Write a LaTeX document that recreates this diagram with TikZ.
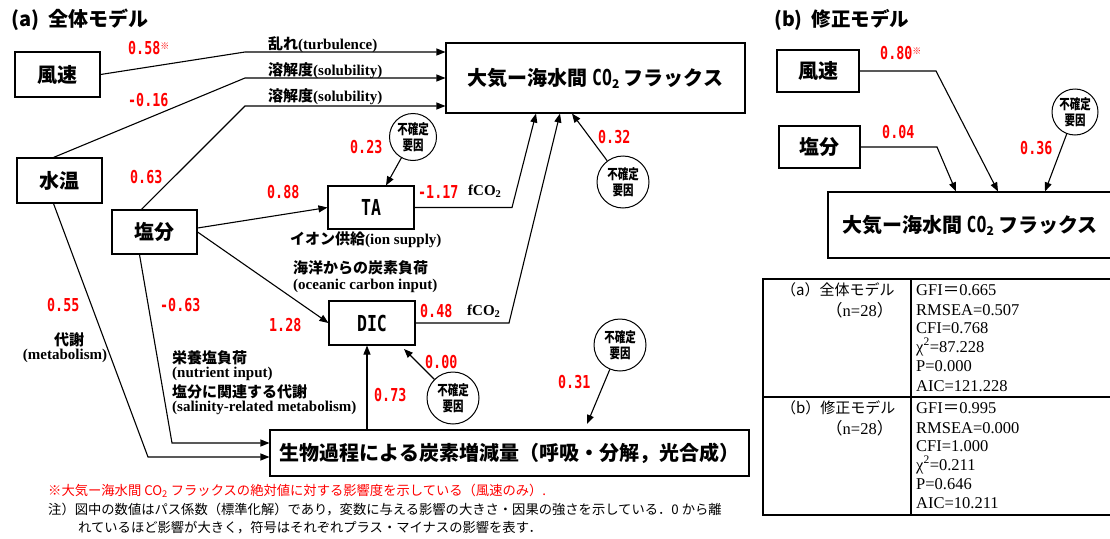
\documentclass[tikz,border=0pt]{standalone}
\usepackage{fontspec}
\setmainfont{Liberation Serif}
\newfontfamily\jp{Noto Sans CJK JP}
\newfontfamily\jpc[FakeStretch=0.75]{Noto Sans CJK JP}
\newfontfamily\cnd[FakeStretch=0.75]{DejaVu Sans Mono}
\usetikzlibrary{arrows.meta,calc}
\newcommand\myfs[1]{\fontsize{#1}{#1}\selectfont}
\colorlet{numred}{red}
\begin{document}
\begin{tikzpicture}[x=1pt,y=-1pt,
  box/.style={draw, line width=1.1pt, inner sep=0pt, font=\jp\bfseries\myfs{20}},
  num/.style={anchor=west, inner sep=0pt, text=numred, font=\cnd\bfseries\myfs{17.8}},
  lbl/.style={anchor=west, inner sep=0pt, font=\bfseries\myfs{15}},
  unc/.style={circle, draw, line width=1pt, minimum size=52pt, inner sep=0pt, align=center, font=\jpc\bfseries\fontsize{14}{15.5}\selectfont},
  arr/.style={-{Triangle[length=9pt,width=7pt]}, line width=1.1pt},
  note/.style={anchor=west, inner sep=0pt, font=\jp\myfs{13.3}},
  tcell/.style={anchor=west, inner sep=0pt, font=\myfs{16.5}},
  ttl/.style={anchor=west, inner sep=0pt, font=\jp\bfseries\myfs{20}}]
\useasboundingbox (0,0) rectangle (1110,538);

% titles
\node[ttl] (ta) at (11,20) {(a)\hspace{9pt}全体モデル};
\node[ttl, font=\jp\bfseries\myfs{19.5}] (tb) at (774,20) {(b)\hspace{9pt}修正モデル};

% boxes (a)
\node[box, minimum width=85pt, minimum height=45pt] (ws) at (57.5,74.5) {風速};
\node[box, minimum width=85pt, minimum height=45pt] (wt) at (59.5,180.5) {水温};
\node[box, minimum width=85pt, minimum height=44pt] (sal) at (154.5,232) {塩分};
\node[box, minimum width=299pt, minimum height=70pt] (flux) at (595.5,78) {大気ー海水間 {\cnd\myfs{22}CO}\raisebox{-3pt}{\myfs{12}2} フラックス};
\node[box, minimum width=86pt, minimum height=43pt, font=\cnd\bfseries\myfs{22}] (TA) at (371,207.5) {TA};
\node[box, minimum width=86pt, minimum height=44pt, font=\cnd\bfseries\myfs{22}] (DIC) at (372,323) {DIC};
\node[box, minimum width=479pt, minimum height=46pt] (bio) at (509.5,453) {生物過程による炭素増減量（呼吸・分解，光合成）};

% uncertainty circles
\node[unc, minimum size=47pt] (u1) at (413,137) {不確定\\要因};
\node[unc] (u2) at (623,182) {不確定\\要因};
\node[unc] (u3) at (453,398) {不確定\\要因};
\node[unc] (u4) at (620,345) {不確定\\要因};
\node[unc, minimum size=46pt] (u5) at (1075,112) {不確定\\要因};

% boxes (b)
\node[box, minimum width=82pt, minimum height=42pt] (wsb) at (818,71) {風速};
\node[box, minimum width=81pt, minimum height=42pt] (salb) at (819.5,147) {塩分};
\node[box, minimum width=284pt, minimum height=66pt] (fluxb) at (970,225) {大気ー海水間 {\cnd\myfs{22}CO}\raisebox{-3pt}{\myfs{12}2} フラックス};

% connectors (a)
\draw[arr] (ws.east) -- (245,52) -- (flux.west |- 0,52);
\draw[arr] ([xshift=-6pt]wt.north) -- (245,78) -- (flux.west |- 0,78);
\draw[arr] ([xshift=-13pt]sal.north) -- (245,106) -- (flux.west |- 0,106);
\draw[arr] ([yshift=4pt]sal.east) -- (TA.west);
\draw[arr] (sal.east) -- (DIC.west);
\draw[arr] (TA.east) -- (512,0 |- TA.east) -- (536,0 |- flux.south);
\draw[arr] (DIC.east) -- (509,0 |- DIC.east) -- (560,0 |- flux.south);
\draw[arr] (u2) -- (572,0 |- flux.south);
\draw[arr] (u1) -- (386,0 |- TA.north);
\draw[arr] (u3) -- (404,349);
\draw[arr] (367,0 |- bio.north) -- (367,0 |- DIC.south);
\draw[arr] (u4) -- (587,424);
\draw[arr] ([xshift=-6pt]wt.south) -- (148,457) -- (bio.west |- 0,457);
\draw[arr] ([xshift=-15pt]sal.south) -- (172,443) -- (bio.west |- 0,443);

% connectors (b)
\draw[arr] (wsb.east) -- (936,0 |- wsb.east) -- (998,0 |- fluxb.north);
\draw[arr] (salb.east) -- (937,0 |- salb.east) -- (956,0 |- fluxb.north);
\draw[arr] (u5) -- (1045,0 |- fluxb.north);

% coefficients (a)
\node[num] (n1) at (128,48) {0.58\raisebox{5pt}{\jp\bfseries\myfs{9}※}};
\node[num] (n2) at (128,100) {-0.16};
\node[num] (n3) at (130,177) {0.63};
\node[num] (n4) at (267,192) {0.88};
\node[num] (n5) at (269,325) {1.28};
\node[num] (n6) at (47,305) {0.55};
\node[num] (n7) at (160,305) {-0.63};
\node[num] (n8) at (350,147) {0.23};
\node[num] (n9) at (418,192) {-1.17};
\node[num] (n10) at (420,311) {0.48};
\node[num] (n11) at (598,137) {0.32};
\node[num] (n12) at (425,362) {0.00};
\node[num] (n13) at (374,395) {0.73};
\node[num] (n14) at (558,382) {0.31};
% coefficients (b)
\node[num] (n15) at (880,53) {0.80\raisebox{5pt}{\jp\bfseries\myfs{9}※}};
\node[num] (n16) at (882,132) {0.04};
\node[num] (n17) at (1020,148) {0.36};

% path labels
\node[lbl] (l1) at (268,45) {{\jp 乱れ}(turbulence)};
\node[lbl] (l2) at (268,71) {{\jp 溶解度}(solubility)};
\node[lbl] (l3) at (268,97) {{\jp 溶解度}(solubility)};
\node[lbl] (l4) at (468,191) {fCO\textsubscript{2}};
\node[lbl] (l5) at (467,311) {fCO\textsubscript{2}};
\node[lbl] (l6) at (290,240) {{\jp イオン供給}(ion supply)};
\node[lbl] (l7) at (293,268) {{\jp 海洋からの炭素負荷}};
\node[lbl] (l8) at (293,286) {(oceanic carbon input)};
\node[lbl, anchor=center] (l9) at (69,340) {{\jp 代謝}};
\node[lbl, anchor=center] (l10) at (65,356) {(metabolism)};
\node[lbl] (l11) at (172,358) {{\jp 栄養塩負荷}};
\node[lbl] (l12) at (172,374) {(nutrient input)};
\node[lbl] (l13) at (172,392) {{\jp 塩分に関連する代謝}};
\node[lbl] (l14) at (172,408) {(salinity-related metabolism)};

% notes
\node[note, text=numred] (m1) at (48,491) {※大気ー海水間 CO\textsubscript{2} フラックスの絶対値に対する影響度を示している（風速のみ）.};
\node[note] (m2) at (48,510) {注）図中の数値はパス係数（標準化解）であり，変数に与える影響の大きさ・因果の強さを示している．0 から離};
\node[note] (m3) at (78,528) {れているほど影響が大きく，符号はそれぞれプラス・マイナスの影響を表す．};

% fit table
\draw[line width=1.5pt] (763,279) rectangle (1116,515);
\draw[line width=1.5pt] (763,397) -- (1116,397);
\draw[line width=1.2pt] (911,279) -- (911,515);
\node[tcell, font=\jp\myfs{15}] (ta1) at (781,290) {（a）全体モデル};
\node[tcell] (ta2) at (826,310) {{\jp （}n=28{\jp ）}};
\node[tcell, font=\jp\myfs{15}] (tb1) at (781,408) {（b）修正モデル};
\node[tcell] (tb2) at (826,428) {{\jp （}n=28{\jp ）}};
\node[tcell] (r1) at (916,290) {GFI{\jp ＝}0.665};
\node[tcell] (r2) at (916,310) {RMSEA=0.507};
\node[tcell] (r3) at (916,328) {CFI=0.768};
\node[tcell] (r4) at (916,347) {χ\textsuperscript{2}=87.228};
\node[tcell] (r5) at (916,366) {P=0.000};
\node[tcell] (r6) at (916,386) {AIC=121.228};
\node[tcell] (s1) at (916,408) {GFI{\jp ＝}0.995};
\node[tcell] (s2) at (916,428) {RMSEA=0.000};
\node[tcell] (s3) at (916,446) {CFI=1.000};
\node[tcell] (s4) at (916,465) {χ\textsuperscript{2}=0.211};
\node[tcell] (s5) at (916,484) {P=0.646};
\node[tcell] (s6) at (916,503) {AIC=10.211};
\end{tikzpicture}
\end{document}
